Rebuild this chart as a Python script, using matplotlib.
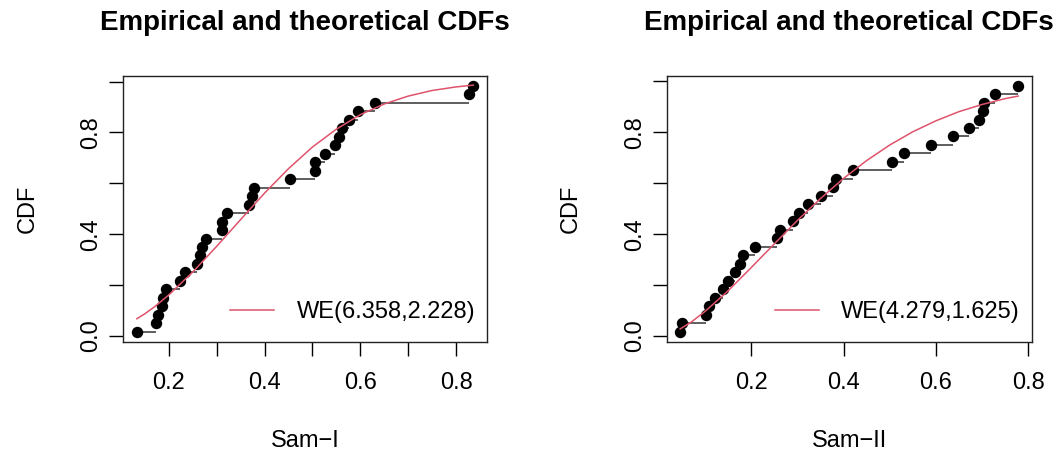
import matplotlib

matplotlib.use("Agg")
import matplotlib.pyplot as plt
import numpy as np

plt.rcParams["font.family"] = ["Liberation Sans", "DejaVu Sans"]

# Sample values (sorted)
sam1 = [0.133, 0.174, 0.177, 0.185, 0.188, 0.193, 0.224, 0.233, 0.259, 0.266,
        0.270, 0.278, 0.310, 0.311, 0.322, 0.367, 0.374, 0.377, 0.452, 0.506,
        0.506, 0.527, 0.548, 0.556, 0.562, 0.577, 0.595, 0.630, 0.826, 0.836]
sam2 = [0.046, 0.050, 0.102, 0.108, 0.122, 0.138, 0.149, 0.164, 0.175, 0.182,
        0.209, 0.256, 0.262, 0.291, 0.304, 0.323, 0.352, 0.378, 0.384, 0.421,
        0.505, 0.530, 0.590, 0.637, 0.671, 0.693, 0.701, 0.704, 0.727, 0.778]

# Fitted CDF curves
curve1_x = [0.133, 0.15, 0.17, 0.2, 0.25, 0.3, 0.35, 0.4, 0.45, 0.5, 0.55, 0.6,
            0.65, 0.7, 0.75, 0.8, 0.836]
curve1_y = [0.068, 0.088, 0.115, 0.162, 0.252, 0.353, 0.458, 0.562, 0.658, 0.743,
            0.813, 0.870, 0.912, 0.943, 0.965, 0.979, 0.986]
curve2_x = [0.046, 0.07, 0.1, 0.15, 0.2, 0.25, 0.3, 0.35, 0.4, 0.45, 0.5,
            0.55, 0.6, 0.65, 0.7, 0.75, 0.778]
curve2_y = [0.028, 0.055, 0.097, 0.178, 0.269, 0.362, 0.454, 0.540, 0.619,
            0.689, 0.750, 0.802, 0.845, 0.881, 0.909, 0.932, 0.942]

labels = ["WE(6.358,2.228)", "WE(4.279,1.625)"]
xlabels = ["Sam\u2212I", "Sam\u2212II"]
xticks = [[0.2, 0.3, 0.4, 0.5, 0.6, 0.7, 0.8], [0.2, 0.4, 0.6, 0.8]]
xticklabels = [["0.2", "", "0.4", "", "0.6", "", "0.8"], ["0.2", "0.4", "0.6", "0.8"]]
yticks = [0.0, 0.2, 0.4, 0.6, 0.8, 1.0]
yticklabels = ["0.0", "", "0.4", "", "0.8", ""]

RED = "#DF536B"
FS = 17


def draw(ax, sam, cx, cy, label, xlabel, xt, xtl):
    x = np.asarray(sam)
    n = len(x)
    y = (np.arange(1, n + 1) - 0.5) / n  # ppoints positions

    ax.hlines(y[:-1], x[:-1], x[1:], colors="#333333", linewidth=1.1, zorder=2)
    ax.plot(x, y, "o", color="black", markersize=7.2, zorder=3)
    ax.plot(cx, cy, color=RED, linewidth=1.1, label=label, zorder=4)

    dx = 0.04 * (x.max() - x.min())
    dy = 0.04 * (y.max() - y.min())
    ax.set_xlim(x.min() - dx, x.max() + dx)
    ax.set_ylim(y.min() - dy, y.max() + dy)

    ax.set_xticks(xt)
    ax.set_xticklabels(xtl)
    ax.set_yticks(yticks)
    ax.set_yticklabels(yticklabels, rotation=90, va="center")
    ax.tick_params(axis="both", length=10, width=1.0, labelsize=FS)
    ax.tick_params(axis="x", pad=12)
    ax.tick_params(axis="y", pad=5)
    for s in ax.spines.values():
        s.set_linewidth(1.0)
        s.set_color("#222222")

    ax.set_title("Empirical and theoretical CDFs", fontsize=20, fontweight="bold", pad=33)
    ax.set_xlabel(xlabel, fontsize=FS, labelpad=26)
    ax.set_ylabel("CDF", fontsize=FS, labelpad=30)
    ax.legend(loc="center right", bbox_to_anchor=(0.968, 0.11), frameon=False,
              fontsize=FS, handlelength=1.85, handletextpad=0.95,
              borderpad=0, borderaxespad=0)


def main():
    fig = plt.figure(figsize=(10.58, 4.59), dpi=100)
    ax1 = fig.add_axes([0.1166, 0.2556, 0.3435, 0.5789])
    ax2 = fig.add_axes([0.6301, 0.2556, 0.3450, 0.5795])

    draw(ax1, sam1, curve1_x, curve1_y, labels[0], xlabels[0], xticks[0], xticklabels[0])
    draw(ax2, sam2, curve2_x, curve2_y, labels[1], xlabels[1], xticks[1], xticklabels[1])

    fig.savefig("out.png", dpi=100)


if __name__ == "__main__":
    main()
